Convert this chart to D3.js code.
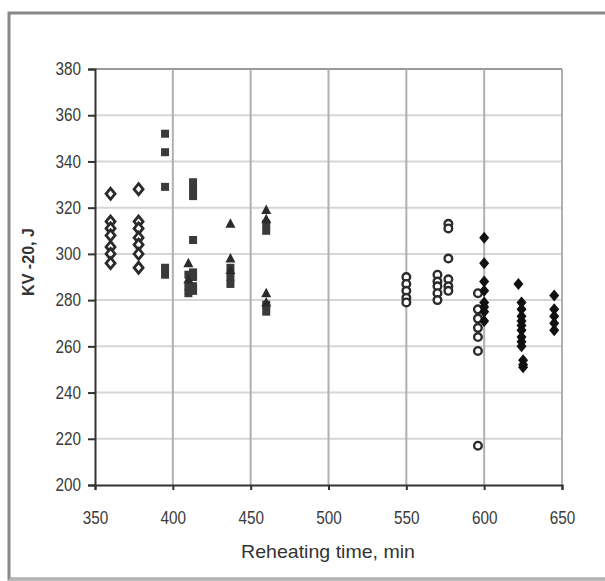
<!DOCTYPE html>
<html>
<head>
<meta charset="utf-8">
<script src="https://cdn.jsdelivr.net/npm/d3@7"></script>
<style>
  html, body { margin: 0; padding: 0; background: #fff; }
  svg { display: block; }
</style>
</head>
<body>
<svg id="chart" width="605" height="581"></svg>
<script>
// ---- Data ----
const xTicks = [350, 400, 450, 500, 550, 600, 650];
const yTicks = [200, 220, 240, 260, 280, 300, 320, 340, 360, 380];

const openDiamonds = [
  [360,326],[360,314],[360,311],[360,308],[360,303],[360,300],[360,296],
  [378,328],[378,314],[378,311],[378,307],[378,304],[378,300],[378,294]
];
const squares = [
  [395,352],[395,344],[395,329],[395,294],[395,291],
  [413,331],[413,328],[413,325],[413,306],[413,292],[413,290],[413,286],[413,284],
  [410,291],[410,286],[410,283],
  [437,294],[437,290],[437,287],
  [460,313],[460,310],[460,278],[460,275]
];
const triangles = [
  [410,296],[410,289],
  [437,313],[437,298],[437,293],
  [460,319],[460,315],[460,283],[460,279]
];
const openCircles = [
  [550,290],[550,287],[550,284],[550,281],[550,279],
  [570,291],[570,288],[570,286],[570,283],[570,280],
  [577,313],[577,311],[577,298],[577,289],[577,286],[577,284],
  [596,283],[596,276],[596,272],[596,268],[596,264],[596,258],[596,217]
];
const filledDiamonds = [
  [600,307],[600,296],[600,288],[600,284],[600,279],[600,277],[600,275],[600,271],
  [622,287],[624,279],[624,276],[624,273],[624,271],[624,269],[624,267],[624,264],[624,262],[624,260],
  [625,254],[625,252],[625,251],
  [645,282],[645,276],[645,273],[645,270],[645,267]
];

// ---- Layout ----
const svg = d3.select("#chart");
const x = d3.scaleLinear().domain([350, 650]).range([95, 562]);
const y = d3.scaleLinear().domain([200, 380]).range([485, 69]);
const FONT = "Liberation Sans, Arial, sans-serif";
const SX = 0.85;

// outer frame
svg.append("rect").attr("x", 9).attr("y", 13).attr("width", 620).attr("height", 566)
  .attr("fill", "none").attr("stroke", "#888").attr("stroke-width", 3);
svg.append("line").attr("x1", 9).attr("x2", 605).attr("y1", 579).attr("y2", 579)
  .attr("stroke", "#ddd").attr("stroke-width", 1);

// gridlines
svg.append("g").selectAll("line").data(yTicks.filter(d => d > 200)).join("line")
  .attr("x1", x(350)).attr("x2", x(650))
  .attr("y1", d => y(d)).attr("y2", d => y(d))
  .attr("stroke", d => d === 380 ? "#999" : "#d6d6d6").attr("stroke-width", 2);
svg.append("g").selectAll("line").data(xTicks.filter(d => d > 350)).join("line")
  .attr("x1", d => x(d)).attr("x2", d => x(d))
  .attr("y1", y(200)).attr("y2", y(380))
  .attr("stroke", "#b0b0b0").attr("stroke-width", 2);

// axes
const xAxis = d3.axisBottom(x).tickValues(xTicks).tickSize(5).tickPadding(21).tickFormat(d3.format("d"));
const yAxis = d3.axisLeft(y).tickValues(yTicks).tickSize(7).tickPadding(7).tickFormat(d3.format("d"));

const gx = svg.append("g").attr("transform", `translate(0,${y(200)})`).call(xAxis);
const gy = svg.append("g").attr("transform", `translate(${x(350)},0)`).call(yAxis);
[gx, gy].forEach(g => {
  g.select(".domain").attr("stroke", "#333").attr("stroke-width", 2);
  g.selectAll(".tick line").attr("stroke", "#333").attr("stroke-width", 2);
  g.selectAll(".tick text").attr("fill", "#3a3a3a").attr("font-size", 18)
    .attr("font-family", FONT).attr("transform", `scale(${SX},1)`);
});
gy.selectAll(".tick text").attr("x", -14 / SX);

// axis titles
svg.append("text").attr("x", 328).attr("y", 558).attr("text-anchor", "middle")
  .attr("font-family", FONT).attr("font-size", 19).attr("fill", "#333")
  .attr("textLength", 174).attr("lengthAdjust", "spacingAndGlyphs")
  .text("Reheating time, min");
svg.append("text").attr("transform", "translate(34,262) rotate(-90)").attr("text-anchor", "middle")
  .attr("font-family", FONT).attr("font-weight", "bold")
  .attr("font-size", 17).attr("fill", "#333")
  .attr("textLength", 68).attr("lengthAdjust", "spacingAndGlyphs")
  .text("KV -20, J");

// markers
const ink = "#2b2b2b";
const pts = svg.append("g");
const diamondPath = (w, h) => `M0,${-h}L${w},0L0,${h}L${-w},0Z`;

pts.selectAll(".od").data(openDiamonds).join("path")
  .attr("transform", d => `translate(${x(d[0])},${y(d[1])})`)
  .attr("d", diamondPath(4.5, 5.5)).attr("fill", "#fff").attr("stroke", ink).attr("stroke-width", 2.8);

pts.selectAll(".sq").data(squares).join("rect")
  .attr("x", d => x(d[0]) - 4).attr("y", d => y(d[1]) - 4)
  .attr("width", 8).attr("height", 8).attr("fill", "#3a3a3a");

pts.selectAll(".tr").data(triangles).join("path")
  .attr("transform", d => `translate(${x(d[0])},${y(d[1])})`)
  .attr("d", "M0,-5.5L5,4L-5,4Z").attr("fill", ink);

pts.selectAll(".oc").data(openCircles).join("circle")
  .attr("cx", d => x(d[0])).attr("cy", d => y(d[1])).attr("r", 3.8)
  .attr("fill", "#fff").attr("stroke", ink).attr("stroke-width", 2.4);

pts.selectAll(".fd").data(filledDiamonds).join("path")
  .attr("transform", d => `translate(${x(d[0])},${y(d[1])})`)
  .attr("d", diamondPath(5, 6)).attr("fill", "#111");
</script>
</body>
</html>
